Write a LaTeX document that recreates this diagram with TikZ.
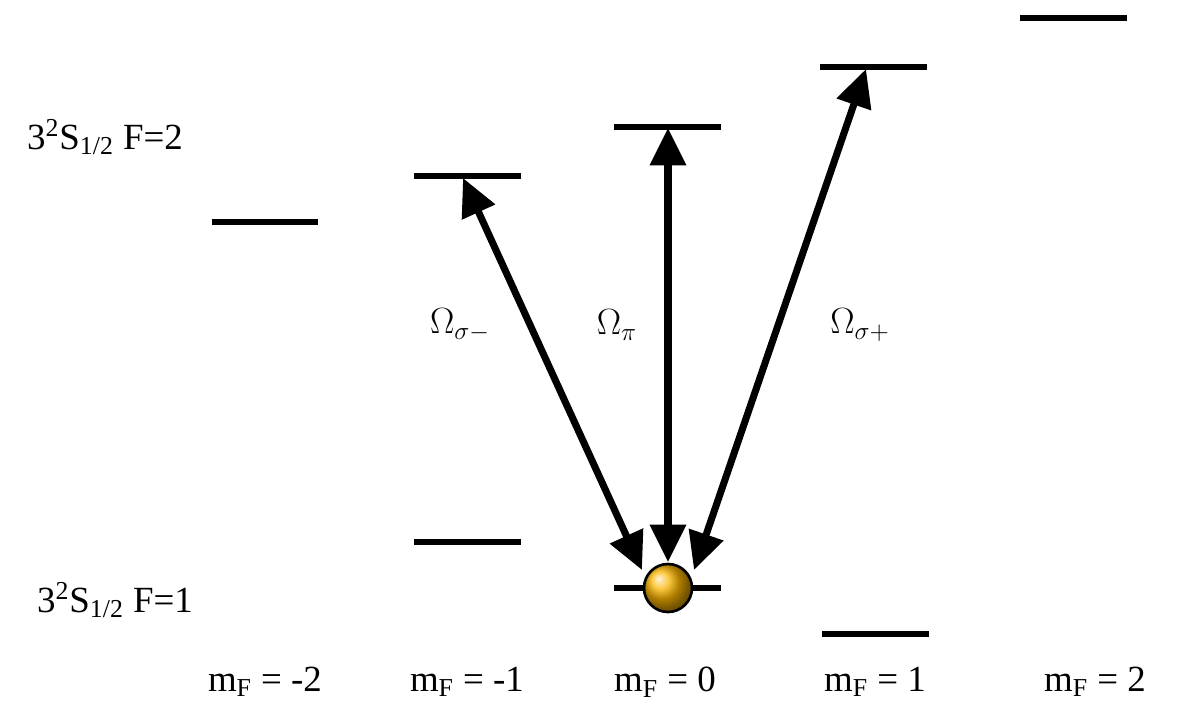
\documentclass[tikz,border=0pt]{standalone}
\usepackage{fontspec}
\setmainfont{Liberation Serif}
\usetikzlibrary{arrows.meta}
\definecolor{atomgold}{RGB}{250,180,0}

\tikzset{
  level/.style={line width=3.5pt},
  trans/.style={line width=4pt, {Triangle[length=0.75cm,width=0.7cm]}-{Triangle[length=0.75cm,width=0.7cm]}},
  lbl/.style={font=\fontsize{21}{25}\selectfont}
}

\begin{document}
\begin{tikzpicture}[x=0.02cm,y=-0.02cm]
    \useasboundingbox (0,0) rectangle (1198,721);
    % Upper manifold F=2
    \draw[level] (212,222) -- (318,222);
    \draw[level] (414,176) -- (521,176);
    \draw[level] (614,127) -- (721,127);
    \draw[level] (820,67) -- (927,67);
    \draw[level] (1020,18) -- (1127,18);
    % Lower manifold F=1
    \draw[level] (414,542) -- (521,542);
    \draw[level] (614,588) -- (721,588);
    \draw[level] (822,634) -- (929,634);
    % Atom
    \shade[ball color=atomgold] (668,588) circle (24);
    \draw[line width=1.5pt] (668,588) circle (24);
    % Transitions
    \coordinate (sm) at (463,178);
    \coordinate (pz) at (668,128);
    \coordinate (sp) at (866,69);
    \coordinate (asm) at (642,570);
    \coordinate (apz) at (668,562);
    \coordinate (asp) at (694,570);
    \draw[trans] (asm) -- (sm);
    \draw[trans] (apz) -- (pz);
    \draw[trans] (asp) -- (sp);
    \node[lbl] (osm) at (460,325) {$\Omega_{\sigma-}$};
    \node[lbl] (opz) at (617,325) {$\Omega_{\pi}$};
    \node[lbl] (osp) at (860,325) {$\Omega_{\sigma+}$};
    % State labels
    \node[lbl] (f2) at (105,137) {3\textsuperscript{2}S\textsubscript{1/2} F=2};
    \node[lbl] (f1) at (115,600) {3\textsuperscript{2}S\textsubscript{1/2} F=1};
    \node[lbl] (m2) at (265,682) {m\textsubscript{F} = -2};
    \node[lbl] (m1) at (467,682) {m\textsubscript{F} = -1};
    \node[lbl] (m0) at (665,682) {m\textsubscript{F} = 0};
    \node[lbl] (p1) at (875,682) {m\textsubscript{F} = 1};
    \node[lbl] (p2) at (1095,682) {m\textsubscript{F} = 2};
\end{tikzpicture}
\end{document}
